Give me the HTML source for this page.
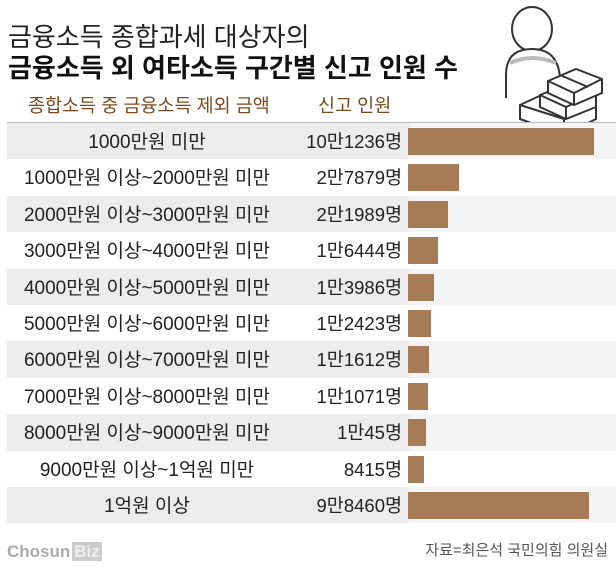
<!DOCTYPE html>
<html><head><meta charset="utf-8"><style>
body{margin:0;width:616px;height:578px;background:#fff;font-family:"Liberation Sans","Noto Sans CJK KR",sans-serif;position:relative;overflow:hidden}
.a{position:absolute;white-space:nowrap;line-height:1}
.t1{left:8px;top:24px;font-size:26px;color:#222}
.t2{left:8px;top:55px;font-size:26px;font-weight:bold;color:#111}
.h{top:97px;font-size:18.5px;color:#7a4a1e}
.row{position:absolute;left:7px;width:609px;height:36.4px}
.g .l{background:#ececec}
.g .r{background:#f4f4f4}
.l{position:absolute;left:0;width:402px;height:100%}
.r{position:absolute;left:402px;width:207px;height:100%}
.lab{position:absolute;left:0;width:280px;text-align:center;top:10px;font-size:19px;line-height:1;color:#222}
.val{position:absolute;right:214px;top:10px;font-size:18.5px;line-height:1;color:#222}
.bar{position:absolute;left:401px;top:5px;height:27px;background:#a57c55}
</style></head><body>
<div class="a t1">금융소득 종합과세 대상자의</div>
<div class="a t2">금융소득 외 여타소득 구간별 신고 인원 수</div>
<div class="a h" style="left:28px">종합소득 중 금융소득 제외 금액</div>
<div class="a h" style="left:318px">신고 인원</div>
<svg class="a" style="left:500px;top:3px" width="112" height="135" viewBox="0 0 112 135" fill="none" stroke="#333" stroke-width="2">
<ellipse cx="32" cy="26" rx="20" ry="22" fill="#fff"/>
<path d="M6 95 L6 72 Q6 46 32 46 Q58 46 60 75" fill="#fff"/>
<path d="M10 60 Q32 50 56 60" stroke="#bbb" stroke-width="4"/>
<path d="M20 102 L50 88 L96 100 L96 116 L64 132 L20 116 Z" fill="#fff"/>
<path d="M20 102 L64 116 L96 100 M64 116 L64 132"/>
<path d="M40 92 L70 80 L96 90 L96 104 L66 116 L40 104 Z" fill="#fff"/>
<path d="M40 92 L66 104 L96 90 M66 104 L66 116"/>
<path d="M48 78 L76 66 L102 76 L102 90 L74 102 L48 90 Z" fill="#fff"/>
<path d="M48 78 L74 90 L102 76 M74 90 L74 102 M60 72 L88 84"/>
</svg>
<div class="a" style="left:7px;top:122px;width:609px;height:1px;background:#bbb"></div>
<div style="position:absolute;left:0;top:123px">
<div class="row g" style="top:0"><div class="l"></div><div class="r"></div><div class="lab">1000만원 미만</div><div class="val">10만1236명</div><div class="bar" style="width:186px"></div></div>
<div class="row" style="top:36.4px"><div class="lab">1000만원 이상~2000만원 미만</div><div class="val">2만7879명</div><div class="bar" style="width:51px"></div></div>
<div class="row g" style="top:72.8px"><div class="l"></div><div class="r"></div><div class="lab">2000만원 이상~3000만원 미만</div><div class="val">2만1989명</div><div class="bar" style="width:40px"></div></div>
<div class="row" style="top:109.2px"><div class="lab">3000만원 이상~4000만원 미만</div><div class="val">1만6444명</div><div class="bar" style="width:30px"></div></div>
<div class="row g" style="top:145.6px"><div class="l"></div><div class="r"></div><div class="lab">4000만원 이상~5000만원 미만</div><div class="val">1만3986명</div><div class="bar" style="width:26px"></div></div>
<div class="row" style="top:182px"><div class="lab">5000만원 이상~6000만원 미만</div><div class="val">1만2423명</div><div class="bar" style="width:23px"></div></div>
<div class="row g" style="top:218.4px"><div class="l"></div><div class="r"></div><div class="lab">6000만원 이상~7000만원 미만</div><div class="val">1만1612명</div><div class="bar" style="width:21px"></div></div>
<div class="row" style="top:254.8px"><div class="lab">7000만원 이상~8000만원 미만</div><div class="val">1만1071명</div><div class="bar" style="width:20px"></div></div>
<div class="row g" style="top:291.2px"><div class="l"></div><div class="r"></div><div class="lab">8000만원 이상~9000만원 미만</div><div class="val">1만45명</div><div class="bar" style="width:18px"></div></div>
<div class="row" style="top:327.6px"><div class="lab">9000만원 이상~1억원 미만</div><div class="val">8415명</div><div class="bar" style="width:16px"></div></div>
<div class="row g" style="top:364px"><div class="l"></div><div class="r"></div><div class="lab">1억원 이상</div><div class="val">9만8460명</div><div class="bar" style="width:181px"></div></div>
</div>
<div class="a" style="left:7px;top:543px;font-size:17px;font-weight:bold;color:#aaa">Chosun<span style="background:#ccc;color:#eee;padding:0 2px;margin-left:2px">Biz</span></div>
<div class="a" style="right:8px;top:543px;font-size:15px;color:#555">자료=최은석 국민의힘 의원실</div>
</body></html>
